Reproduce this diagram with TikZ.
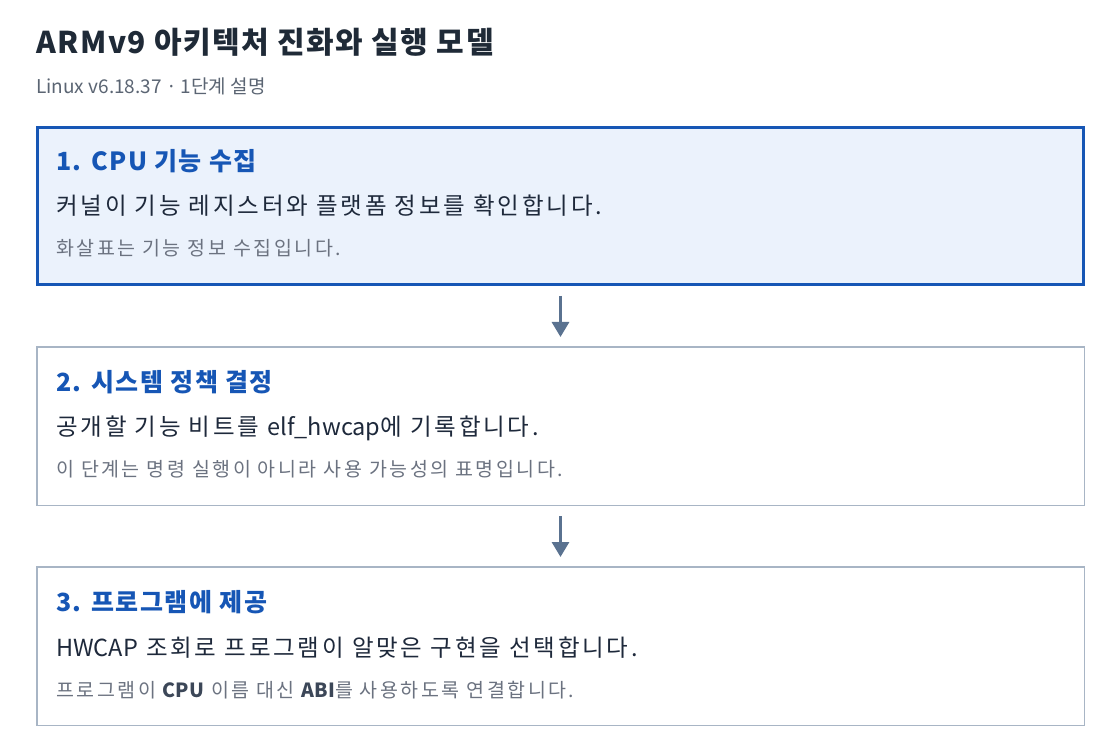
\documentclass[tikz,border=0pt]{standalone}
\usepackage{fontspec}
\setmainfont{Noto Sans CJK KR}
\usepackage{tikz}
\usetikzlibrary{positioning}
\usetikzlibrary{arrows.meta}
\definecolor{stepblue}{HTML}{1656B5}
\definecolor{stepfill}{HTML}{EBF2FC}
\definecolor{stepgray}{HTML}{A8B5C5}
\definecolor{flowgray}{HTML}{5A7290}
\definecolor{titleink}{HTML}{1F2A37}
\definecolor{bodyink}{HTML}{1E293B}
\definecolor{noteink}{HTML}{6B7280}
\definecolor{subink}{HTML}{5B6573}
\definecolor{strongink}{HTML}{3C4758}
\newcommand{\untracked}[1]{{\addfontfeatures{LetterSpace=0}#1}}

\begin{document}
\begin{tikzpicture}[x=1pt, y=-1pt,
    activebox/.style={rectangle, draw=stepblue, fill=stepfill,
      line width=3pt, minimum width=1046pt, minimum height=157pt},
    stepbox/.style={rectangle, draw=stepgray, fill=white, line
      width=1.5pt, minimum width=1047.5pt, minimum height=158.5pt},
    headtext/.style={anchor=base west, inner sep=0pt, text=stepblue,
      font=\fontsize{25}{30}\selectfont\bfseries\addfontfeatures{LetterSpace=6}},
    bodytext/.style={anchor=base west, inner sep=0pt, text=bodyink,
      font=\fontsize{23.5}{28}\selectfont\addfontfeatures{LetterSpace=12}},
    notetext/.style={anchor=base west, inner sep=0pt, text=noteink,
      font=\fontsize{19.5}{23}\selectfont\addfontfeatures{LetterSpace=13}},
    flow/.style={draw=flowgray, line width=3pt, shorten <=10pt,
      shorten >=9pt, -{Triangle[width=17pt, length=15pt]}}, ]
    \fill[white] (0,0) rectangle (1120,754);
    \useasboundingbox (0,0) rectangle (1120,754);
    % Nodes
    \node[anchor=base west, inner sep=0pt, text=titleink,
    font=\fontsize{30}{36}\selectfont\bfseries\addfontfeatures{LetterSpace=5}]
    (title) at (36,54) {ARMv9 아키텍처 진화와 실행 모델};
    \node[anchor=base west, inner sep=0pt, text=subink,
    font=\fontsize{19}{23}\selectfont] (subtitle) at (36,94) {Linux
      v6.18.37 · 1단계 설명};
    \node[activebox] (collect) at (560.5,206) {}; \node[stepbox]
    (policy) [below=60pt of collect] {}; \node[stepbox] (provide)
    [below=60pt of policy] {};
    \node[headtext] (collect_head) at ([shift={(20,45)}]collect.north
    west) {1. CPU 기능 수집}; \node[bodytext] (collect_body) at
    ([shift={(20,89)}]collect.north west) {커널이 기능 레지스터와 플랫폼
      정보를 확인합니다.}; \node[notetext] (collect_note) at
    ([shift={(20,130)}]collect.north west) {화살표는 기능 정보
      수집입니다.};
    \node[headtext] (policy_head) at ([shift={(20,45)}]policy.north
    west) {2. 시스템 정책 결정}; \node[bodytext] (policy_body) at
    ([shift={(20,89)}]policy.north west) {공개할 기능 비트를
      \untracked{elf\_hwcap}에 기록합니다.}; \node[notetext] (policy_note) at
    ([shift={(20,130.5)}]policy.north west) {이 단계는 명령 실행이 아니라
      사용 가능성의 표명입니다.};
    \node[headtext] (provide_head) at ([shift={(20,45.5)}]provide.north
    west) {3. 프로그램에 제공}; \node[bodytext] (provide_body) at
    ([shift={(20,90)}]provide.north west) {\untracked{HWCAP} 조회로 프로그램이
      알맞은 구현을 선택합니다.}; \node[notetext] (provide_note) at
    ([shift={(20,131)}]provide.north west) {프로그램이
      \textcolor{strongink}{\bfseries\untracked{CPU}} 이름 대신
      \textcolor{strongink}{\bfseries\untracked{ABI}}를 사용하도록 연결합니다.};
    % Lines
    \draw[flow] (collect) -- (policy); \draw[flow] (policy) --
    (provide);
  \end{tikzpicture}
\end{document}
